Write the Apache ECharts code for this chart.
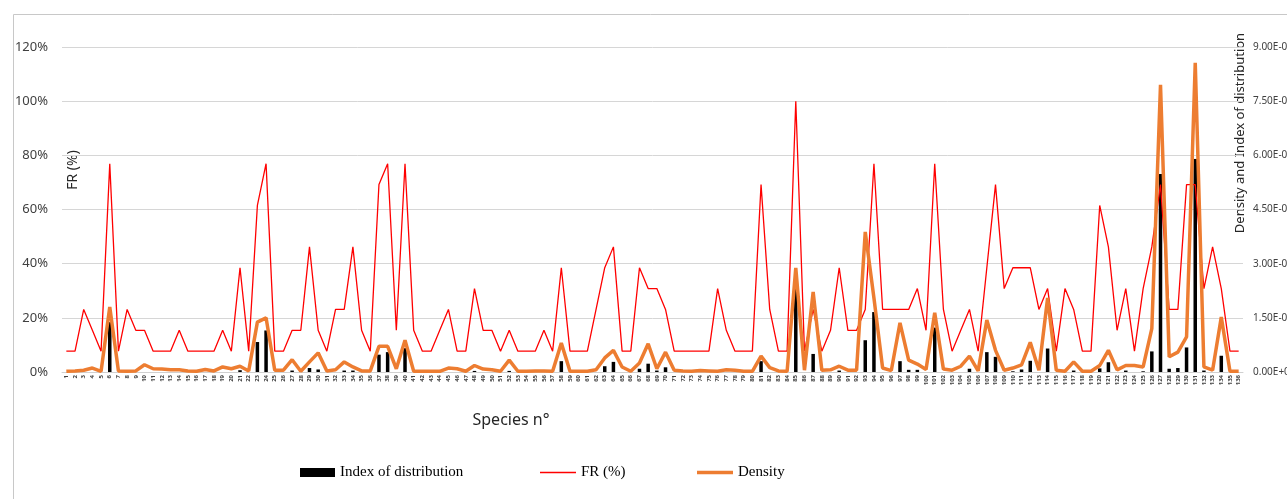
<!DOCTYPE html>
<html>
<head>
<meta charset="utf-8">
<script src="https://cdn.jsdelivr.net/npm/echarts@6/dist/echarts.min.js"></script>
<style>
html,body{margin:0;padding:0;background:#fff;overflow:hidden;width:1287px;height:499px;}
#chart{width:1287px;height:499px;position:absolute;left:0;top:0;}
</style>
</head>
<body>
<div id="chart"></div>
<script>
// Species numbers 1..136
const species = [
  1,2,3,4,5,6,7,8,9,10,11,12,13,14,15,16,17,18,19,20,
  21,22,23,24,25,26,27,28,29,30,31,32,33,34,35,36,37,38,39,40,
  41,42,43,44,45,46,47,48,49,50,51,52,53,54,55,56,57,58,59,60,
  61,62,63,64,65,66,67,68,69,70,71,72,73,74,75,76,77,78,79,80,
  81,82,83,84,85,86,87,88,89,90,91,92,93,94,95,96,97,98,99,100,
  101,102,103,104,105,106,107,108,109,110,111,112,113,114,115,116,117,118,119,120,
  121,122,123,124,125,126,127,128,129,130,131,132,133,134,135,136
];

// FR (%)
const frValues = [
  7.7, 7.7, 23.1, 15.4, 7.7, 76.9, 7.7, 23.1, 15.4, 15.4,
  7.7, 7.7, 7.7, 15.4, 7.7, 7.7, 7.7, 7.7, 15.4, 7.7,
  38.5, 7.7, 61.5, 76.9, 7.7, 7.7, 15.4, 15.4, 46.2, 15.4,
  7.7, 23.1, 23.1, 46.2, 15.4, 7.7, 69.2, 76.9, 15.4, 76.9,
  15.4, 7.7, 7.7, 15.4, 23.1, 7.7, 7.7, 30.8, 15.4, 15.4,
  7.7, 15.4, 7.7, 7.7, 7.7, 15.4, 7.7, 38.5, 7.7, 7.7,
  7.7, 23.1, 38.5, 46.2, 7.7, 7.7, 38.5, 30.8, 30.8, 23.1,
  7.7, 7.7, 7.7, 7.7, 7.7, 30.8, 15.4, 7.7, 7.7, 7.7,
  69.2, 23.1, 7.7, 7.7, 100, 7.7, 23.1, 7.7, 15.4, 38.5,
  15.4, 15.4, 23.1, 76.9, 23.1, 23.1, 23.1, 23.1, 30.8, 15.4,
  76.9, 23.1, 7.7, 15.4, 23.1, 7.7, 38.5, 69.2, 30.8, 38.5,
  38.5, 38.5, 23.1, 30.8, 7.7, 30.8, 23.1, 7.7, 7.7, 61.5,
  46.2, 15.4, 30.8, 7.7, 30.8, 46.2, 69.2, 23.1, 23.1, 69.2,
  69.2, 30.8, 46.2, 30.8, 7.7, 7.7
];

// Density
const densityValues = [
  0.0002, 0.0003, 0.0005, 0.0011, 0.0002, 0.0180, 0.0003, 0.0002, 0.0003, 0.0020,
  0.0009, 0.0008, 0.0006, 0.0006, 0.0003, 0.0002, 0.0007, 0.0003, 0.0014, 0.0009,
  0.0016, 0.0003, 0.0138, 0.0150, 0.0005, 0.0005, 0.0034, 0.0002, 0.0028, 0.0053,
  0.0003, 0.0006, 0.0028, 0.0014, 0.0003, 0.0003, 0.0071, 0.0071, 0.0009, 0.0088,
  0.0002, 0.0002, 0.0002, 0.0002, 0.0011, 0.0009, 0.0002, 0.0018, 0.0008, 0.0006,
  0.0002, 0.0033, 0.0002, 0.0002, 0.0003, 0.0003, 0.0002, 0.0080, 0.0002, 0.0002,
  0.0002, 0.0006, 0.0039, 0.0060, 0.0014, 0.0002, 0.0025, 0.0078, 0.0009, 0.0055,
  0.0005, 0.0003, 0.0002, 0.0004, 0.0003, 0.0002, 0.0006, 0.0005, 0.0002, 0.0002,
  0.0044, 0.0012, 0.0003, 0.0002, 0.0288, 0.0005, 0.0222, 0.0005, 0.0006, 0.0016,
  0.0005, 0.0005, 0.0388, 0.0205, 0.0011, 0.0004, 0.0136, 0.0033, 0.0022, 0.0007,
  0.0164, 0.0008, 0.0005, 0.0016, 0.0044, 0.0003, 0.0144, 0.0060, 0.0005, 0.0011,
  0.0020, 0.0082, 0.0005, 0.0205, 0.0005, 0.0002, 0.0028, 0.0002, 0.0002, 0.0018,
  0.0060, 0.0006, 0.0018, 0.0018, 0.0014, 0.0120, 0.0795, 0.0042, 0.0055, 0.0097,
  0.0856, 0.0014, 0.0005, 0.0152, 0.0002, 0.0002
];

// Index of distribution
const indexValues = [
  0, 0, 0, 0, 0, 0.0138, 0, 0, 0, 0,
  0, 0, 0, 0, 0, 0, 0, 0, 0, 0,
  0.0005, 0, 0.0083, 0.0115, 0, 0, 0.0004, 0, 0.0011, 0.0007,
  0, 0, 0.0004, 0.0004, 0, 0, 0.0048, 0.0055, 0, 0.0066,
  0, 0, 0, 0, 0, 0, 0, 0.0003, 0, 0,
  0, 0.0003, 0, 0, 0, 0, 0, 0.0030, 0, 0,
  0, 0, 0.0016, 0.0028, 0, 0, 0.0009, 0.0023, 0.0004, 0.0013,
  0, 0, 0, 0, 0, 0, 0, 0, 0, 0,
  0.0030, 0, 0, 0, 0.0236, 0, 0.0050, 0, 0, 0.0004,
  0, 0, 0.0088, 0.0166, 0, 0, 0.0030, 0.0006, 0.0006, 0,
  0.0123, 0, 0, 0, 0.0009, 0, 0.0055, 0.0042, 0, 0.0002,
  0.0007, 0.0031, 0, 0.0065, 0, 0, 0.0004, 0, 0, 0.0010,
  0.0027, 0, 0.0004, 0, 0.0002, 0.0057, 0.0548, 0.0009, 0.0011, 0.0068,
  0.0590, 0.0004, 0, 0.0045, 0, 0
];

function sci(v) {
  if (Math.abs(v) < 1e-12) return '0.00E+00';
  let e = Math.floor(Math.log10(v) + 1e-9);
  let m = v / Math.pow(10, e);
  let ms = m.toFixed(2);
  if (ms === '10.00') { e += 1; ms = '1.00'; }
  return ms + 'E' + (e < 0 ? '-' : '+') + String(Math.abs(e)).padStart(2, '0');
}

const chart = echarts.init(document.getElementById('chart'), null, {renderer: 'canvas', width: 1287, height: 499});
const sans = "'Noto Sans', 'Open Sans', sans-serif";
const serif = "'Liberation Serif', 'DejaVu Serif', serif";
const legendText = {fontFamily: serif, fontSize: 15, color: '#000'};

chart.setOption({
  animation: false,
  backgroundColor: '#ffffff',
  grid: {left: 62, right: 44, top: 47, bottom: 127, containLabel: false, outerBoundsMode: 'none'},
  legend: [
    {left: 300, top: 465, padding: 0, itemWidth: 35, itemHeight: 9, itemGap: 0, icon: 'rect',
     textStyle: legendText, data: ['Index of distribution']},
    {left: 540, top: 465, padding: 0, itemWidth: 36, itemHeight: 1.5, itemGap: 0, icon: 'rect',
     textStyle: legendText, data: ['FR (%)']},
    {left: 697, top: 465, padding: 0, itemWidth: 36, itemHeight: 3.5, itemGap: 0, icon: 'rect',
     textStyle: legendText, data: ['Density']}
  ],
  xAxis: {
    type: 'category',
    data: species,
    boundaryGap: true,
    axisLine: {show: true, lineStyle: {color: '#d0d0d0', width: 1}},
    axisTick: {show: false},
    axisLabel: {interval: 0, rotate: 90, fontSize: 6, fontWeight: 'bold', color: '#404040',
                fontFamily: sans, margin: 3}
  },
  yAxis: [
    {
      type: 'value', min: 0, max: 120, interval: 20, position: 'left',
      axisLine: {show: false}, axisTick: {show: false},
      axisLabel: {formatter: '{value}%', fontSize: 13, color: '#404040', fontFamily: sans, margin: 14},
      splitLine: {show: true, lineStyle: {color: '#d6d6d6', width: 1}}
    },
    {
      type: 'value', min: 0, max: 0.09, interval: 0.015, position: 'right',
      axisLine: {show: false}, axisTick: {show: false},
      axisLabel: {formatter: sci, fontSize: 10, color: '#404040', fontFamily: sans, margin: 10, align: 'left'},
      splitLine: {show: false}
    }
  ],
  series: [
    {
      name: 'Index of distribution', type: 'bar', yAxisIndex: 1, data: indexValues,
      barWidth: 3.5, itemStyle: {color: '#000000'}, z: 2
    },
    {
      name: 'FR (%)', type: 'line', yAxisIndex: 0, data: frValues,
      symbol: 'none', lineStyle: {color: '#ff0000', width: 1.3}, itemStyle: {color: '#ff0000'}, z: 3
    },
    {
      name: 'Density', type: 'line', yAxisIndex: 1, data: densityValues,
      symbol: 'none', lineStyle: {color: '#ed7d31', width: 3.5}, itemStyle: {color: '#ed7d31'}, z: 4
    }
  ],
  graphic: [
    {type: 'rect', left: 11, top: 12, silent: true,
     shape: {x: 0.5, y: 0.5, width: 1400, height: 700},
     style: {fill: 'none', stroke: '#c8c8c8', lineWidth: 1}, z: -10},
    {type: 'text', x: 73, y: 170, rotation: Math.PI / 2, silent: true,
     style: {text: 'FR (%)', fontFamily: sans, fontSize: 14, fill: '#262626',
             textAlign: 'center', textVerticalAlign: 'middle'}},
    {type: 'text', x: 1240, y: 133, rotation: Math.PI / 2, silent: true,
     style: {text: 'Density and Index of distribution', fontFamily: sans, fontSize: 13, fill: '#262626',
             textAlign: 'center', textVerticalAlign: 'middle'}},
    {type: 'text', x: 511, y: 420, silent: true,
     style: {text: 'Species n°', fontFamily: sans, fontSize: 16, fill: '#262626',
             textAlign: 'center', textVerticalAlign: 'middle'}}
  ]
});
</script>
</body>
</html>
